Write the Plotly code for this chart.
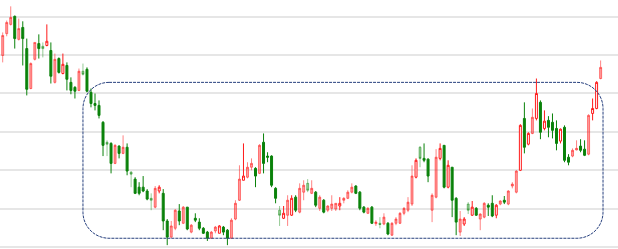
import plotly.graph_objects as go

# Candle index (trading day) and OHLC prices
opens = [7.99, 8.56, 8.80, 9.01, 8.41, 8.72, 8.17, 7.13, 7.89, 8.30,
         8.23, 8.25, 8.12, 7.29, 7.91, 7.52, 7.73, 7.29, 7.16, 7.08,
         7.58, 7.63, 7.03, 6.74, 6.69, 6.25, 5.73, 5.70, 5.18, 5.63,
         5.44, 5.60, 4.95, 4.77, 4.56, 4.56, 4.46, 4.27, 4.04, 4.46,
         4.40, 3.68, 3.26, 3.49, 3.94, 3.62, 4.04, 3.39, 3.75, 3.65,
         3.49, 3.39, 3.23, 3.42, 3.36, 3.52, 3.44, 3.23, 3.73, 4.22,
         4.74, 4.82, 5.08, 5.05, 4.92, 5.73, 5.37, 5.37, 4.53, 3.96,
         3.75, 3.83, 3.83, 4.30, 3.91, 4.43, 4.66, 4.40, 4.43, 4.01,
         4.22, 3.96, 4.01, 3.99, 4.07, 4.22, 4.27, 4.43, 4.59, 4.43,
         4.04, 3.88, 4.04, 3.61, 3.62, 3.60, 3.62, 3.31, 3.62, 3.62,
         3.88, 3.96, 4.12, 4.82, 5.60, 5.31, 5.29, 3.96, 4.30, 5.31,
         5.65, 4.56, 5.08, 4.27, 3.39, 3.60, 4.12, 3.83, 4.01, 3.73,
         3.78, 4.09, 4.14, 3.83, 4.12, 4.22, 4.12, 4.59, 4.43, 5.00,
         6.35, 5.68, 5.96, 6.35, 6.77, 6.09, 6.30, 6.25, 6.09, 5.76,
         6.12, 5.34, 5.37, 5.53, 5.63, 5.55, 5.42, 6.48, 6.61, 7.39]
highs = [8.59, 8.90, 9.27, 9.03, 8.95, 8.88, 8.43, 7.81, 8.33, 8.54,
         8.33, 8.80, 8.33, 8.04, 7.94, 8.04, 7.81, 7.42, 7.19, 7.65,
         7.78, 7.68, 7.13, 7.00, 6.82, 6.28, 5.78, 5.73, 5.68, 5.65,
         5.91, 5.70, 4.98, 4.82, 4.69, 4.85, 4.51, 4.40, 4.59, 4.61,
         4.51, 3.73, 3.68, 3.99, 4.12, 4.07, 4.04, 3.60, 3.88, 3.75,
         3.52, 3.42, 3.42, 3.55, 3.57, 3.55, 3.47, 3.75, 4.22, 5.13,
         5.70, 5.21, 5.31, 5.08, 5.68, 5.96, 5.47, 5.39, 4.56, 4.07,
         4.07, 4.35, 4.35, 4.35, 4.66, 4.74, 4.77, 4.74, 4.46, 4.35,
         4.25, 4.09, 4.35, 4.14, 4.30, 4.30, 4.48, 4.66, 4.61, 4.46,
         4.07, 4.04, 4.07, 3.70, 3.78, 3.88, 3.65, 3.65, 3.78, 3.91,
         4.04, 4.30, 5.13, 5.31, 5.63, 5.70, 5.31, 4.40, 5.55, 5.70,
         5.65, 5.26, 5.08, 4.30, 3.94, 3.78, 4.17, 4.20, 4.04, 3.88,
         4.17, 4.14, 4.35, 4.12, 4.22, 4.33, 4.48, 4.69, 5.00, 6.20,
         6.77, 5.99, 6.61, 7.39, 6.82, 6.56, 6.41, 6.48, 6.30, 6.09,
         6.17, 5.42, 5.57, 5.78, 5.81, 5.78, 6.46, 6.87, 7.32, 7.86]
lows = [7.81, 8.49, 8.77, 8.17, 8.38, 7.73, 6.95, 7.11, 7.86, 7.91,
        7.94, 8.23, 7.26, 7.26, 7.52, 7.50, 7.08, 6.98, 6.87, 7.06,
        7.47, 7.03, 6.64, 6.56, 6.35, 5.37, 5.37, 4.92, 5.16, 5.31,
        5.42, 4.87, 4.56, 4.38, 4.35, 4.43, 4.22, 3.96, 4.01, 4.40,
        3.44, 3.05, 3.23, 3.44, 3.57, 3.60, 3.44, 3.36, 3.65, 3.44,
        3.34, 3.16, 3.21, 3.36, 3.36, 3.31, 3.05, 3.21, 3.70, 4.20,
        4.74, 4.79, 5.00, 4.56, 4.90, 4.92, 5.21, 4.56, 4.14, 3.55,
        3.73, 3.55, 3.81, 3.91, 3.88, 4.22, 4.43, 4.38, 4.04, 3.94,
        3.88, 3.91, 3.94, 3.94, 3.96, 4.14, 4.25, 4.40, 4.38, 3.96,
        3.88, 3.86, 3.60, 3.55, 3.49, 3.57, 3.31, 3.29, 3.57, 3.60,
        3.83, 3.91, 4.07, 4.79, 5.08, 5.21, 4.69, 3.65, 4.27, 5.26,
        4.53, 4.53, 3.78, 3.31, 3.29, 3.55, 3.86, 3.81, 3.81, 3.44,
        3.75, 3.81, 3.78, 3.75, 4.09, 4.12, 4.09, 4.53, 4.40, 4.98,
        5.44, 5.65, 5.94, 6.30, 5.81, 6.04, 5.86, 5.83, 5.52, 5.70,
        5.21, 5.13, 5.34, 5.52, 5.47, 5.37, 5.39, 6.30, 6.59, 7.37]
closes = [8.51, 8.85, 8.98, 8.43, 8.69, 8.43, 7.11, 7.78, 8.33, 8.17,
          8.17, 8.36, 7.45, 7.89, 7.55, 7.76, 7.37, 7.08, 7.06, 7.58,
          7.50, 7.06, 6.74, 6.69, 6.43, 5.65, 5.68, 5.18, 5.65, 5.44,
          5.60, 4.98, 4.90, 4.40, 4.40, 4.46, 4.25, 4.22, 4.53, 4.56,
          3.68, 3.26, 3.55, 3.96, 3.68, 4.04, 3.47, 3.57, 3.70, 3.49,
          3.36, 3.23, 3.39, 3.52, 3.55, 3.39, 3.23, 3.70, 4.14, 4.77,
          4.85, 5.08, 5.18, 4.85, 5.65, 5.18, 5.34, 4.61, 4.27, 3.83,
          3.88, 4.22, 4.27, 3.96, 4.53, 4.61, 4.48, 4.53, 4.09, 4.30,
          3.91, 4.07, 4.12, 4.14, 4.14, 4.27, 4.43, 4.56, 4.40, 4.01,
          3.91, 4.01, 3.62, 3.65, 3.59, 3.78, 3.34, 3.62, 3.73, 3.88,
          4.01, 4.17, 4.85, 5.26, 5.31, 5.26, 4.85, 4.35, 5.34, 5.57,
          4.56, 5.13, 4.22, 3.65, 3.73, 3.73, 3.96, 4.04, 3.83, 3.86,
          4.14, 4.04, 3.81, 4.09, 4.20, 4.17, 4.46, 4.64, 4.98, 6.17,
          5.60, 5.96, 6.38, 7.00, 5.99, 6.28, 6.12, 6.04, 5.70, 6.07,
          5.26, 5.21, 5.52, 5.57, 5.52, 5.39, 6.43, 6.61, 7.29, 7.68]
# Candle rendering class: R = red filled, H = red hollow, G = solid green, g = pale green
styles = list("RRRGRGGRRG" "gHGRGHGGGR" "gGGGGGgGRG" "RGgGGGGgRH"
              "GGRRGRGRGG" "GGRRHGGRRR" "HRRGRGGGGg" "HRHGRRgRGR"
              "GRRRHRRRGG" "GRGRgRGRRR" "RRRHgGGRRH" "GHGGRHgHGR"
              "RGGHRGRRRH" "GHRHGHGGGH" "GGRRGGRHHR")
days = list(range(len(opens)))

# Highlighted consolidation box (day range and price range)
box_day_start, box_day_end = 20.0, 149.6
box_price_low, box_price_high = 3.23, 7.29
box_corner_days, box_corner_price = 6.5, 0.68

style_defs = {
    "R": dict(line="rgba(255,30,30,0.55)", fill="rgba(255,40,40,0.45)"),
    "H": dict(line="#ff1a1a", fill="#ffffff"),
    "G": dict(line="#0a820a", fill="#0a820a"),
    "g": dict(line="rgba(0,128,0,0.42)", fill="rgba(0,128,0,0.42)"),
}

fig = go.Figure()
for key in ["g", "R", "G", "H"]:
    idx = [i for i, s in enumerate(styles) if s == key]
    st = style_defs[key]
    fig.add_trace(go.Candlestick(
        x=[days[i] for i in idx],
        open=[opens[i] for i in idx],
        high=[highs[i] for i in idx],
        low=[lows[i] for i in idx],
        close=[closes[i] for i in idx],
        increasing=dict(line=dict(color=st["line"], width=1), fillcolor=st["fill"]),
        decreasing=dict(line=dict(color=st["line"], width=1), fillcolor=st["fill"]),
        whiskerwidth=0,
        showlegend=False,
        hoverinfo="skip",
    ))

k = 0.5523
x0, x1 = box_day_start, box_day_end
y0, y1 = box_price_low, box_price_high
rx, ry = box_corner_days, box_corner_price
path = (
    f"M {x0+rx},{y1} L {x1-rx},{y1} "
    f"C {x1-rx+k*rx},{y1} {x1},{y1-ry+k*ry} {x1},{y1-ry} "
    f"L {x1},{y0+ry} "
    f"C {x1},{y0+ry-k*ry} {x1-rx+k*rx},{y0} {x1-rx},{y0} "
    f"L {x0+rx},{y0} "
    f"C {x0+rx-k*rx},{y0} {x0},{y0+ry-k*ry} {x0},{y0+ry} "
    f"L {x0},{y1-ry} "
    f"C {x0},{y1-ry+k*ry} {x0+rx-k*rx},{y1} {x0+rx},{y1} Z"
)
fig.add_shape(type="path", path=path, xref="x", yref="y",
              line=dict(color="#27407e", width=1, dash="3px,1px"),
              fillcolor="rgba(0,0,0,0)", layer="above")

fig.update_layout(
    width=618, height=249, autosize=False,
    margin=dict(l=0, r=0, t=0, b=0),
    paper_bgcolor="white", plot_bgcolor="white",
    boxmode="overlay",
    xaxis=dict(range=[-0.673, 153.33], visible=False, rangeslider=dict(visible=False)),
    yaxis=dict(range=[2.95, 9.435], tick0=0, dtick=1, showticklabels=False,
               showgrid=True, gridcolor="#e6e6e6", gridwidth=1.5,
               zeroline=False, showline=False, ticks=""),
)

fig.write_html("out.html")
